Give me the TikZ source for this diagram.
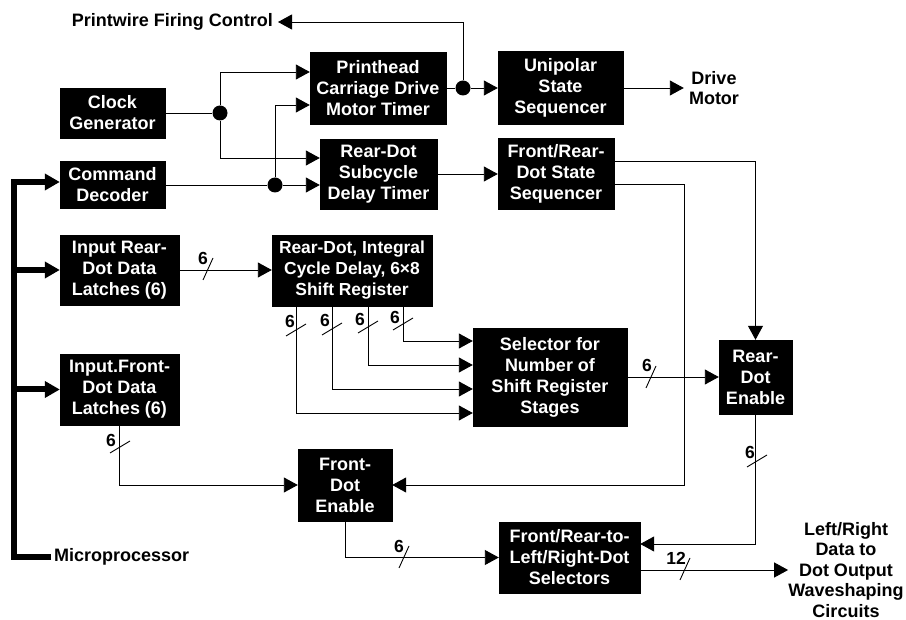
\documentclass[tikz,border=0pt]{standalone}
\usepackage{fontspec}
\setmainfont{Liberation Sans}
\usetikzlibrary{arrows.meta}
\begin{document}
\begin{tikzpicture}[x=1pt,y=-1pt,
  box/.style={fill=black, draw=black, text=white, font=\fontsize{18}{21}\selectfont\bfseries, align=center, inner sep=0pt},
  lbl/.style={font=\fontsize{18}{20.5}\selectfont\bfseries, align=center, text=black},
  num/.style={font=\fontsize{17.5}{20}\selectfont\bfseries, inner sep=0pt},
  wire/.style={line width=0.9pt, draw=black},
  arr/.style={wire, -{Triangle[length=14pt,width=15pt]}},
  bus/.style={line width=6pt, line join=miter, -{Triangle[length=15pt,width=16pt]}},
  jdot/.style={circle, fill=black, inner sep=0pt, minimum size=15pt},
  hsl/.pic={\draw[wire] (-5pt,-11pt) -- (5pt,11pt);},
  vsl/.pic={\draw[wire] (-10pt,-6pt) -- (10pt,6pt);}
]
\useasboundingbox (0,0) rectangle (906,620);

% boxes
\node[box, minimum width=105pt, minimum height=50pt] (clk) at (112.5,113) {Clock\\Generator};
\node[box, minimum width=105pt, minimum height=47pt] (cmd) at (112.5,185) {Command\\Decoder};
\node[box, minimum width=136pt, minimum height=72pt] (pht) at (378,88) {Printhead\\Carriage Drive\\Motor Timer};
\node[box, minimum width=117pt, minimum height=70pt] (rds) at (378.5,174) {Rear-Dot\\Subcycle\\Delay Timer};
\node[box, minimum width=125pt, minimum height=73pt] (uni) at (560.5,88) {Unipolar\\State\\Sequencer};
\node[box, minimum width=116pt, minimum height=71pt] (frs) at (556,173.5) {Front/Rear-\\Dot State\\Sequencer};
\node[box, minimum width=119pt, minimum height=70pt] (ird) at (119.5,270) {Input Rear-\\Dot Data\\Latches (6)};
\node[box, minimum width=119pt, minimum height=71pt] (ifd) at (119.5,389.5) {Input.Front-\\Dot Data\\Latches (6)};
\node[box, minimum width=160pt, minimum height=71pt, font=\fontsize{17.4}{21}\selectfont\bfseries] (shr) at (352,270.5) {Rear-Dot, Integral\\Cycle Delay, 6×8\\Shift Register};
\node[box, minimum width=154pt, minimum height=98pt] (sel) at (550,377) {Selector for\\Number of\\Shift Register\\Stages};
\node[box, minimum width=73pt, minimum height=74pt] (red) at (755.5,377) {Rear-\\Dot\\Enable};
\node[box, minimum width=94pt, minimum height=72pt] (fde) at (345,485) {Front-\\Dot\\Enable};
\node[box, minimum width=141pt, minimum height=71pt] (flr) at (569.5,557.5) {Front/Rear-to-\\Left/Right-Dot\\Selectors};

% free labels
\node[lbl, anchor=east, inner sep=5pt] (pwf) at (278,22) {Printwire Firing Control};
\node[lbl, inner sep=5pt] (drv) at (714,88) {Drive\\Motor};
\node[lbl, anchor=west, inner sep=3pt] (mp) at (51,557) {Microprocessor};
\node[lbl, inner sep=0pt] (out) at (846,570) {Left/Right\\Data to\\Dot Output\\Waveshaping\\Circuits};

% junctions
\node[jdot] (j1) at (220,113) {};
\node[jdot] (j2) at (275,185) {};
\node[jdot] (j3) at (463,88) {};
\coordinate (bt) at (14,182);
\coordinate (b1) at (684,485);

% bus
\draw[bus] (mp.west) -| (bt) -- ([yshift=3pt]cmd.west);
\draw[bus] (bt |- ird.west) -- (ird.west);
\draw[bus] (bt |- ifd.west) -- (ifd.west);

% clock / command
\draw[wire] (clk.east |- j1) -- (j1);
\draw[arr] (j1) |- ([yshift=16pt]pht.west);
\draw[arr] (j1) |- ([yshift=16pt]rds.west);
\draw[wire] (cmd.east |- j2) -- (j2);
\draw[arr] (j2) -- (rds.west |- j2);
\draw[arr] (j2) |- ([yshift=-17pt]pht.west);

% printhead timer
\draw[wire] (pht.east |- j3) -- (j3);
\draw[arr] (j3) -- (uni.west |- j3);
\draw[arr] (j3) |- (pwf.east);
\draw[arr] (uni.east) -- (drv.west);

% rear-dot subcycle
\draw[arr] (rds.east) -- (frs.west |- rds.east);
\draw[arr] ([yshift=12.5pt]frs.east) -| (red.north);
\draw[arr] ([yshift=-10.5pt]frs.east) -| (b1) -- (fde.east);

% data latches
\draw[arr] (ird.east) -- (shr.west |- ird.east);
\pic at (208,269) {hsl};
\node[num] at (203,258) {6};

\draw[arr] ([xshift=51pt]shr.south) |- ([yshift=36pt]sel.west);
\draw[arr] ([xshift=16pt]shr.south) |- ([yshift=12pt]sel.west);
\draw[arr] ([xshift=-20pt]shr.south) |- ([yshift=-12pt]sel.west);
\draw[arr] ([xshift=-56pt]shr.south) |- ([yshift=-36pt]sel.west);
\pic at (296,330) {vsl}; \node[num] at (290,321) {6};
\pic at (332,329) {vsl}; \node[num] at (325,320) {6};
\pic at (368,327) {vsl}; \node[num] at (360,319) {6};
\pic at (403,324) {vsl}; \node[num] at (395,317) {6};

\draw[arr] (sel.east) -- (red.west);
\pic at (651,377) {hsl}; \node[num] at (647,365) {6};

\draw[arr] (red.south) |- ([yshift=13.5pt]flr.east);
\pic at (757,461) {vsl}; \node[num] at (750,452) {6};

\draw[arr] (ifd.south) |- (fde.west);
\pic at (120,447) {vsl}; \node[num] at (111,440) {6};

\draw[arr] (fde.south) |- (flr.west);
\pic at (404,557) {hsl}; \node[num] at (399,546) {6};

\draw[arr] ([yshift=-12.5pt]flr.east) -- (out.west |- 0,570);
\pic at (685,569) {hsl}; \node[num] at (676,558) {12};
\end{tikzpicture}
\end{document}
